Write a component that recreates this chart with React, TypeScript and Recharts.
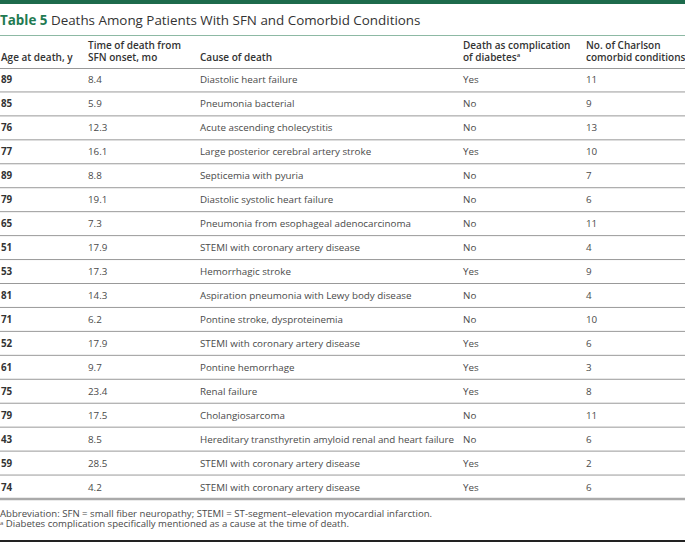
import { BarChart, Bar, XAxis, YAxis } from 'recharts';

// Table 5 — deaths among patients with SFN and comorbid conditions

const ages = [89, 85, 76, 77, 89, 79, 65, 51, 53, 81, 71, 52, 61, 75, 79, 43, 59, 74];
const months = ['8.4', '5.9', '12.3', '16.1', '8.8', '19.1', '7.3', '17.9', '17.3', '14.3', '6.2', '17.9', '9.7', '23.4', '17.5', '8.5', '28.5', '4.2'];
const causes = [
  'Diastolic heart failure',
  'Pneumonia bacterial',
  'Acute ascending cholecystitis',
  'Large posterior cerebral artery stroke',
  'Septicemia with pyuria',
  'Diastolic systolic heart failure',
  'Pneumonia from esophageal adenocarcinoma',
  'STEMI with coronary artery disease',
  'Hemorrhagic stroke',
  'Aspiration pneumonia with Lewy body disease',
  'Pontine stroke, dysproteinemia',
  'STEMI with coronary artery disease',
  'Pontine hemorrhage',
  'Renal failure',
  'Cholangiosarcoma',
  'Hereditary transthyretin amyloid renal and heart failure',
  'STEMI with coronary artery disease',
  'STEMI with coronary artery disease',
];
const diabetesComp = ['Yes', 'No', 'No', 'Yes', 'No', 'No', 'No', 'No', 'Yes', 'No', 'No', 'Yes', 'Yes', 'Yes', 'No', 'No', 'Yes', 'Yes'];
const charlson = [11, 9, 13, 10, 7, 6, 11, 4, 9, 4, 10, 6, 3, 8, 11, 6, 2, 6];

const rows = ages.map((age, i) => ({
  key: String(i),
  age,
  months: months[i],
  cause: causes[i],
  diabetes: diabetesComp[i],
  charlson: charlson[i],
}));

const W = 685;
const H = 542;
const TABLE_TOP = 68;
const TABLE_BOTTOM = 499;
const ROW_H = (TABLE_BOTTOM - TABLE_TOP) / rows.length;
const COLS = [1, 88, 200, 463, 586];
const FONT = '"Open Sans", "Noto Sans", sans-serif';
const TEXT = '#333';
const BODY = '#4a4a4a';

function RowTick(props: any) {
  const { y, payload } = props;
  const i = Number(payload.value);
  const r = rows[i];
  const last = i === rows.length - 1;
  const lineY = y + ROW_H / 2;
  const cells = [String(r.age), r.months, r.cause, r.diabetes, String(r.charlson)];
  return (
    <g>
      {cells.map((c, j) => (
        <text
          key={j}
          x={COLS[j]}
          y={y}
          dominantBaseline="central"
          fontSize={9.8}
          fontWeight={j === 0 ? 700 : 400}
          fontFamily={FONT}
          fill={j === 0 ? TEXT : BODY}
        >
          {c}
        </text>
      ))}
      <line x1={0} x2={W} y1={lineY} y2={lineY} stroke={last ? '#aaa' : '#999'} strokeWidth={last ? 2.5 : 1} />
    </g>
  );
}

const hdr: React.CSSProperties = {
  position: 'absolute',
  fontSize: 10,
  fontWeight: 600,
  lineHeight: '12px',
  color: TEXT,
  whiteSpace: 'nowrap',
};

export default function App() {
  return (
    <div style={{ position: 'absolute', left: 0, top: 0, width: W, height: H, background: '#fff', fontFamily: FONT, overflow: 'hidden' }}>
      <div style={{ position: 'absolute', left: 0, top: 0, width: W, height: 3.5, background: '#1d6b4c' }} />
      <div style={{ position: 'absolute', left: 0, top: 12, fontSize: 13.4, lineHeight: '17px', color: TEXT, whiteSpace: 'nowrap' }}>
        <span style={{ color: '#1f7a52', fontWeight: 700 }}>Table 5</span>{'  '}Deaths Among Patients With SFN and Comorbid Conditions
      </div>
      <div style={{ position: 'absolute', left: 0, top: 35, width: W, height: 1, background: '#8db9a4' }} />

      <div style={{ ...hdr, left: COLS[0], top: 51 }}>Age at death, y</div>
      <div style={{ ...hdr, left: COLS[1], top: 39 }}>Time of death from<br />SFN onset, mo</div>
      <div style={{ ...hdr, left: COLS[2], top: 51 }}>Cause of death</div>
      <div style={{ ...hdr, left: COLS[3], top: 39 }}>
        Death as complication<br />of diabetes<sup style={{ fontSize: 6, verticalAlign: 'top', lineHeight: '8px' }}>a</sup>
      </div>
      <div style={{ ...hdr, left: COLS[4], top: 39 }}>No. of Charlson<br />comorbid conditions</div>
      <div style={{ position: 'absolute', left: 0, top: TABLE_TOP - 0.5, width: W, height: 1, background: '#999' }} />

      <div style={{ position: 'absolute', left: 0, top: 0 }}>
        <BarChart
          width={W}
          height={H}
          data={rows}
          layout="vertical"
          margin={{ top: TABLE_TOP, bottom: H - TABLE_BOTTOM, left: 0, right: 0 }}
        >
          <XAxis type="number" hide />
          <YAxis
            type="category"
            dataKey="key"
            width={1}
            axisLine={false}
            tickLine={false}
            interval={0}
            tick={<RowTick />}
          />
          <Bar dataKey="charlson" fill="none" isAnimationActive={false} />
        </BarChart>
      </div>

      <div style={{ position: 'absolute', left: 0, top: 508.5, fontSize: 9.6, lineHeight: '10.5px', color: BODY, whiteSpace: 'nowrap' }}>
        Abbreviation: SFN = small fiber neuropathy; STEMI = ST-segment–elevation myocardial infarction.
        <br />
        <sup style={{ fontSize: 6, verticalAlign: 'top', lineHeight: '8px' }}>a</sup> Diabetes complication specifically mentioned as a cause at the time of death.
      </div>
      <div style={{ position: 'absolute', left: 0, top: 540, width: W, height: 2, background: '#222' }} />
    </div>
  );
}
